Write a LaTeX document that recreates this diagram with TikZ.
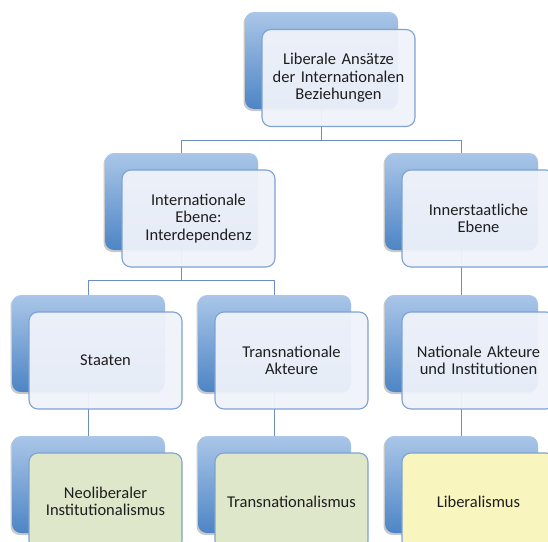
\documentclass[tikz,border=0pt]{standalone}
\usepackage{fontspec}
\setmainfont{Carlito}
\usetikzlibrary{shadows,calc}

\definecolor{linkblue}{HTML}{6A8EC0}
\definecolor{frameblue}{HTML}{7EA2D2}
\definecolor{backtop}{HTML}{AAC6E8}
\definecolor{backbot}{HTML}{4D85C5}
\definecolor{paleface}{HTML}{F0F3FA}
\definecolor{greenface}{HTML}{DFE7CA}
\definecolor{yellowface}{HTML}{F8F5BF}
\definecolor{textgray}{HTML}{1E1E1E}

\tikzset{
  backbox/.style={rectangle, rounded corners=9pt, minimum width=153pt,
    minimum height=97pt, inner sep=0pt, top color=backtop, bottom color=backbot,
    draw=none, drop shadow={shadow xshift=-1.5pt, shadow yshift=-2pt,
    opacity=0.35, fill=black!60}},
  frontbox/.style={rectangle, rounded corners=9pt, minimum width=153pt,
    minimum height=97pt, inner sep=2pt, text width=146pt, align=center,
    draw=frameblue, line width=1.1pt, fill=paleface, fill opacity=0.94,
    text opacity=1, text=textgray, font=\fontsize{16.5}{17.5}\selectfont},
  greenbox/.style={frontbox, fill=greenface, fill opacity=1},
  yellowbox/.style={frontbox, fill=yellowface, fill opacity=1},
  link/.style={draw=linkblue, line width=1pt}
}

\begin{document}
\begin{tikzpicture}[x=1pt, y=-1pt]
  \useasboundingbox (0,0) rectangle (548,541);
  \clip (0,0) rectangle (548,541);
  \fill[white] (0,0) rectangle (548,541);

  % hierarchy lines, laid down first so the boxes cover them
  \coordinate (c0) at (321.5,60.5);
  \coordinate (c1) at (181.5,201.5);
  \coordinate (c2) at (461.5,201.5);
  \coordinate (c3) at (88.5,343.5);
  \coordinate (c4) at (274.5,343.5);
  \coordinate (c5) at (461.5,343.5);
  \coordinate (c6) at (88.5,484.5);
  \coordinate (c7) at (274.5,484.5);
  \coordinate (c8) at (461.5,484.5);

  \draw[link] (c0) -- (c0 |- 0,140) -| (c1);
  \draw[link] (c0 |- 0,140) -| (c2);
  \draw[link] (c1) -- (c1 |- 0,280) -| (c3);
  \draw[link] (c1 |- 0,280) -| (c4);
  \draw[link] (c2) -- (c5);
  \draw[link] (c3) -- (c6);
  \draw[link] (c4) -- (c7);
  \draw[link] (c5) -- (c8);

  % shaded back plates
  \foreach \i in {0,...,8} {
    \node[backbox] (b\i) at (c\i) {};
  }

  % text panels
  \node[frontbox] (f0) at ($(c0)+(17,17.5)$) {Liberale Ansätze\\der Internationalen\\Beziehungen};
  \node[frontbox] (f1) at ($(c1)+(17,17)$) {Internationale\\Ebene:\\Interdependenz};
  \node[frontbox] (f2) at ($(c2)+(17,17)$) {Innerstaatliche\\Ebene};
  \node[frontbox] (f3) at ($(c3)+(17,17)$) {Staaten};
  \node[frontbox] (f4) at ($(c4)+(17,17)$) {Transnationale\\Akteure};
  \node[frontbox] (f5) at ($(c5)+(17,17)$) {Nationale Akteure\\und Institutionen};
  \node[greenbox] (f6) at ($(c6)+(17,17)$) {Neoliberaler\\Institutionalismus};
  \node[greenbox] (f7) at ($(c7)+(17,17)$) {Transnationalismus};
  \node[yellowbox] (f8) at ($(c8)+(17,17)$) {Liberalismus};
\end{tikzpicture}
\end{document}
